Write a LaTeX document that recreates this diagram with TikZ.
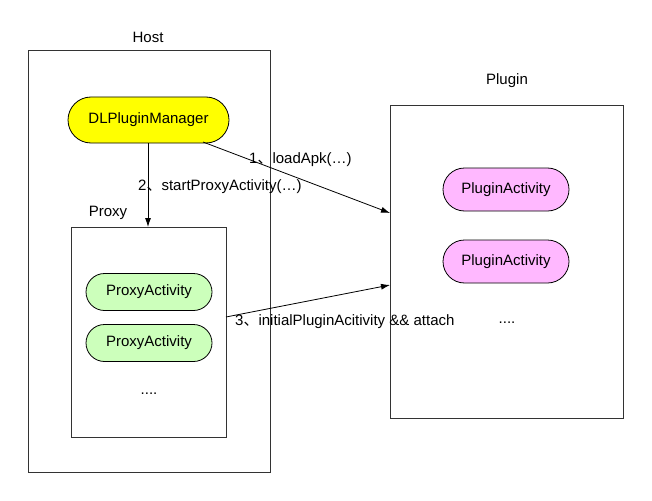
\documentclass[tikz,border=0pt]{standalone}
\usepackage{fontspec}
\setmainfont{Liberation Sans}
\newfontfamily\cjk{Noto Sans CJK SC}
\usetikzlibrary{arrows.meta,shapes.misc}
\definecolor{mgrfill}{HTML}{FFFF00}
\definecolor{proxyfill}{HTML}{CCFFBB}
\definecolor{pluginfill}{HTML}{FFB8FF}
\definecolor{linegray}{HTML}{333333}
\newcommand{\dun}{{\cjk 、}}
\tikzset{
  box/.style={draw=linegray, line width=0.9pt},
  pill/.style={draw=black, line width=0.8pt, rounded rectangle, minimum height=#1, inner sep=0pt, font=\fontsize{15}{17}\selectfont},
  pill/.default=37pt,
  lbl/.style={font=\fontsize{15}{17}\selectfont, inner sep=0pt},
  arr/.style={draw=black, line width=0.8pt, -{Latex[length=9pt,width=6pt]}},
}
\begin{document}
\begin{tikzpicture}[x=1pt,y=-1pt]
\useasboundingbox (0,0) rectangle (652,500);
% Host
\draw[box] (28,50) rectangle (270,472);
\node[lbl] (hostlbl) at (148,37) {Host};
% Plugin
\draw[box] (390,105) rectangle (623,418);
\node[lbl] (pluglbl) at (507,81) {Plugin};
% Proxy
\draw[box] (71,227) rectangle (226,437);
\node[lbl] (proxylbl) at (108,213) {Proxy};
% nodes
\node[pill=46pt, fill=mgrfill, minimum width=161pt] (mgr) at (148.5,120) {DLPluginManager};
\node[pill, fill=proxyfill, minimum width=126pt] (pa1) at (149,292) {ProxyActivity};
\node[pill, fill=proxyfill, minimum width=126pt] (pa2) at (149,343) {ProxyActivity};
\node[lbl] (pdots) at (149,394) {....};
\node[pill=43pt, fill=pluginfill, minimum width=126pt] (pl1) at (506,189.5) {PluginActivity};
\node[pill=43pt, fill=pluginfill, minimum width=126pt] (pl2) at (506,261.5) {PluginActivity};
\node[lbl] (pldots) at (507,323) {....};
% connector coordinates
\coordinate (proxytop) at (148,227);
\coordinate (mgrright) at (203,142);
\coordinate (plugin1) at (390,213);
\coordinate (proxyright) at (226,317);
\coordinate (plugin3) at (390,285);
% arrows
\draw[arr] (mgr.south -| proxytop) -- (proxytop);
\draw[arr] (mgrright) -- (plugin1);
\draw[arr] (proxyright) -- (plugin3);
% labels
\node[lbl, anchor=west] (l1) at (249,160) {1\dun loadApk(…)};
\node[lbl, anchor=west] (l2) at (138,187) {2\dun startProxyActivity(…)};
\node[lbl, anchor=west] (l3) at (235,322) {3\dun initialPluginAcitivity \&\& attach};
\end{tikzpicture}
\end{document}
